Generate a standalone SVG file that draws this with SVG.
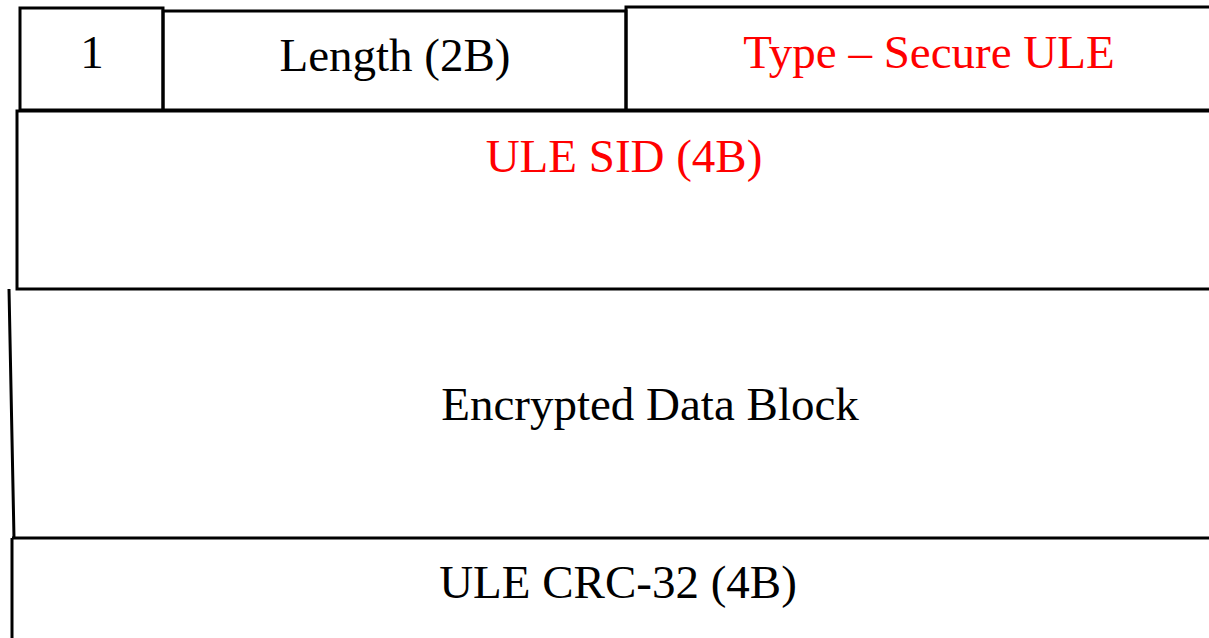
<svg xmlns="http://www.w3.org/2000/svg" width="1209" height="638" viewBox="0 0 1209 638">
<style>
.box{fill:none;stroke:#000;stroke-width:3}
.t{font-family:"Liberation Serif","Times New Roman",serif;font-size:47px;fill:#000}
.red{fill:#ff0000}
</style>
<rect width="1209" height="638" fill="#fff"/>
<g id="field-1">
<rect class="box" x="20" y="8" width="143" height="102"/>
<text class="t" x="92" y="68" text-anchor="middle">1</text>
</g>
<g id="field-length">
<rect class="box" x="163" y="11" width="463" height="99"/>
<text class="t" x="395" y="71" text-anchor="middle">Length (2B)</text>
</g>
<g id="field-type">
<rect class="box" x="626" y="7" width="600" height="103"/>
<text class="t red" x="929" y="68" text-anchor="middle">Type – Secure ULE</text>
</g>
<g id="field-sid">
<rect class="box" x="17" y="111" width="1210" height="178"/>
<text class="t red" x="624" y="172" text-anchor="middle">ULE SID (4B)</text>
</g>
<g id="field-data">
<path class="box" d="M9 289 L14 538 M12 538 L1215 538"/>
<text class="t" x="650" y="420" text-anchor="middle">Encrypted Data Block</text>
</g>
<g id="field-crc">
<path class="box" d="M12 538 L12 645"/>
<text class="t" x="618" y="598" text-anchor="middle">ULE CRC-32 (4B)</text>
</g>
<g id="connectors"></g>
</svg>
